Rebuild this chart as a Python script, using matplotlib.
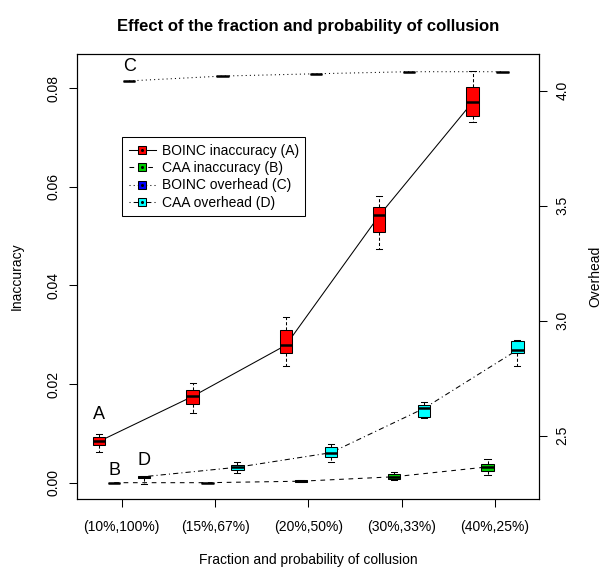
import numpy as np
import matplotlib
matplotlib.use("Agg")
import matplotlib.pyplot as plt
from matplotlib.lines import Line2D

plt.rcParams['font.family'] = ['Liberation Sans', 'DejaVu Sans']

groups = ["(10%,100%)", "(15%,67%)", "(20%,50%)", "(30%,33%)", "(40%,25%)"]

# BOINC inaccuracy (A), left axis
a_med = [0.0084, 0.0175, 0.0279, 0.0542, 0.0772]
a_q1 = [0.0077, 0.0159, 0.0263, 0.0508, 0.0744]
a_q3 = [0.0092, 0.0189, 0.0310, 0.0560, 0.0802]
a_lo = [0.0063, 0.0142, 0.0237, 0.0474, 0.0731]
a_hi = [0.0099, 0.0203, 0.0337, 0.0582, 0.0835]

# CAA inaccuracy (B), left axis
b_med = [0.0, 0.0, 0.0003, 0.0012, 0.0032]
b_q1 = [0.0, 0.0, 0.0001, 0.00075, 0.0024]
b_q3 = [0.0, 0.0, 0.0005, 0.0018, 0.0038]
b_lo = [0.0, 0.0, 0.0001, 0.0006, 0.0015]
b_hi = [0.0, 0.0, 0.0006, 0.0022, 0.0048]

# BOINC overhead (C), right axis
c_med = [4.043, 4.064, 4.074, 4.083, 4.083]

# CAA overhead (D), right axis
d_med = [2.322, 2.363, 2.426, 2.619, 2.873]
d_q1 = [2.318, 2.351, 2.406, 2.580, 2.861]
d_q3 = [2.326, 2.373, 2.452, 2.633, 2.913]
d_lo = [2.290, 2.339, 2.384, 2.576, 2.803]
d_hi = [2.326, 2.384, 2.463, 2.648, 2.916]

labels = ["BOINC inaccuracy (A)", "CAA inaccuracy (B)",
          "BOINC overhead (C)", "CAA overhead (D)"]
colors = ["#ff0000", "#00cc00", "#0000ff", "#00ffff"]
styles = ["-", (0, (4.5, 4.5)), (0, (1, 3)), (0, (1, 3, 5, 3))]
offsets = [-0.24, -0.08, 0.08, 0.24]


def stats(med, q1, q3, lo, hi):
    return [dict(med=m, q1=a, q3=b, whislo=l, whishi=h, fliers=[])
            for m, a, b, l, h in zip(med, q1, q3, lo, hi)]


series = [
    stats(a_med, a_q1, a_q3, a_lo, a_hi),
    stats(b_med, b_q1, b_q3, b_lo, b_hi),
    stats(c_med, c_med, c_med, c_med, c_med),
    stats(d_med, d_q1, d_q3, d_lo, d_hi),
]
meds = [a_med, b_med, c_med, d_med]

fig = plt.figure(figsize=(6.04, 5.69), dpi=100)
ax = fig.add_axes([76.7 / 604, 1 - 499.2 / 569, 462.6 / 604, 445.2 / 569])
ax2 = ax.twinx()

x = np.arange(1, len(groups) + 1)
for i in range(4):
    target = ax if i < 2 else ax2
    pos = x + offsets[i]
    target.plot(pos, meds[i], color="black", lw=0.75, ls=styles[i], zorder=2)
    target.bxp(series[i], positions=pos, widths=0.132, patch_artist=True,
               showfliers=False, manage_ticks=False, capwidths=0.066,
               boxprops=dict(facecolor=colors[i], edgecolor="black", linewidth=0.75),
               medianprops=dict(color="black", linewidth=1.8, solid_capstyle="butt"),
               whiskerprops=dict(color="black", linewidth=0.75, linestyle=(0, (3, 2))),
               capprops=dict(color="black", linewidth=0.75), zorder=3)

ax.set_xlim(0.518, 5.475)
ax.set_ylim(-0.00335, 0.08696)
ax2.set_ylim(2.224, 4.160)

ax.set_xticks(x)
ax.set_xticklabels(groups)
ax.set_yticks([0.0, 0.02, 0.04, 0.06, 0.08])
ax.set_yticklabels(["0.00", "0.02", "0.04", "0.06", "0.08"])
ax2.set_yticks([2.5, 3.0, 3.5, 4.0])
ax2.set_yticklabels(["2.5", "3.0", "3.5", "4.0"])

for a in (ax, ax2):
    a.tick_params(length=5.8, width=0.75, labelsize=10, color="black")
    for s in a.spines.values():
        s.set_linewidth(0.8)
ax.tick_params(axis="x", pad=9)
ax.tick_params(axis="y", labelrotation=90, pad=6)
ax2.tick_params(axis="y", labelrotation=90, pad=6)
for lab in ax.get_yticklabels() + ax2.get_yticklabels():
    lab.set_va("center")

ax.set_xlabel("Fraction and probability of collusion", fontsize=10)
ax.xaxis.set_label_coords(0.5, -0.12)
ax.set_ylabel("Inaccuracy", fontsize=10)
ax.yaxis.set_label_coords(-0.114, 0.5)
ax2.set_ylabel("Overhead", fontsize=10)
ax2.yaxis.set_label_coords(1.107, 0.5)

fig.text(308 / 604, 1 - 27 / 569, "Effect of the fraction and probability of collusion",
         ha="center", va="center", fontsize=12, fontweight="bold")

# letters marking each series
ax.text(1 + offsets[0], 0.0139, "A", fontsize=13, ha="center", va="center")
ax.text(1 + offsets[1], 0.0024, "B", fontsize=13, ha="center", va="center")
ax.text(1 + offsets[2], 0.0844, "C", fontsize=13, ha="center", va="center")
ax.text(1 + offsets[3], 0.0046, "D", fontsize=13, ha="center", va="center")

handles = []
for i in range(4):
    h1 = Line2D([], [], color="black", lw=0.75, ls=styles[i], marker="s",
                markersize=5.5, markerfacecolor=colors[i], markeredgecolor="black",
                markeredgewidth=0.75)
    h2 = Line2D([], [], ls="none", marker="o", markersize=1.2, color="black")
    handles.append((h1, h2))
leg = ax2.legend(handles, labels, loc="upper left", bbox_to_anchor=(0.0986, 0.813),
                 borderaxespad=0, fontsize=10, numpoints=1, handlelength=2.0,
                 handletextpad=0.4, borderpad=0.45, labelspacing=0.25,
                 fancybox=False, framealpha=1, edgecolor="black")
leg.get_frame().set_linewidth(0.75)

fig.savefig("out.png", dpi=100)
